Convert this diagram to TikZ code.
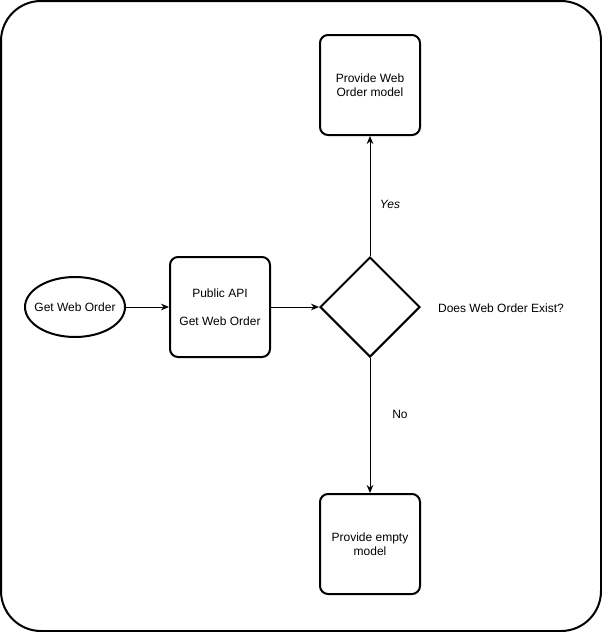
\documentclass[tikz,border=0pt]{standalone}
\usepackage{fontspec}
\setmainfont{Liberation Sans}
\usetikzlibrary{shapes.geometric,arrows.meta}

\tikzset{every picture/.style={line width=0.75pt}}
\tikzset{
  stepbox/.style={draw, line width=1.5pt, rounded corners=6pt, minimum width=75pt, minimum height=75pt, inner sep=0.75pt, align=center, font=\fontsize{9pt}{10.5pt}\selectfont},
  flowlbl/.style={inner sep=0.75pt, align=center, font=\fontsize{9pt}{10.5pt}\selectfont},
  flowarrow/.style={-{Stealth[length=6pt,width=5pt]}}
}

\begin{document}
\begin{tikzpicture}[x=0.75pt,y=0.75pt,yscale=-1,xscale=1]
    \useasboundingbox (0,0) rectangle (602,632);
    
    %Rounded Rect [frame]
    \draw [line width=1.5pt] [rounded corners=30pt] (1,1) rectangle (601,631) ;
    
    %Ellipse
    \node (start) [draw, ellipse, line width=1.5pt, minimum width=75pt, minimum height=45pt, inner sep=0pt, font=\fontsize{9pt}{10.5pt}\selectfont] at (75,307) {\makebox[0pt]{Get Web Order}};
    %Rounded Rect
    \node (api) [stepbox] at (220,307) {Public API\\[10.5pt]Get Web Order};
    %Diamond
    \node (exists) [draw, diamond, line width=1.5pt, minimum width=75pt, minimum height=75pt, inner sep=0pt] at (370,307) {};
    %Rounded Rect
    \node (found) [stepbox] at (370,85) {Provide Web\\Order model};
    %Rounded Rect
    \node (empty) [stepbox] at (370,544) {Provide empty\\model};
    
    % Text Node
    \node (asklbl) [flowlbl] at (501,308) {Does Web Order Exist?};
    % Text Node
    \node (yeslbl) [flowlbl] at (390,204) {\itshape Yes};
    % Text Node
    \node (nolbl) [flowlbl] at (400,414) {No};
    
    %Connectors
    \draw [flowarrow] (start) -- (api) ;
    \draw [flowarrow] (api) -- (exists) ;
    \draw [flowarrow] (exists) -- (found) ;
    \draw [flowarrow] (exists) -- (empty) ;
    
\end{tikzpicture}
\end{document}
